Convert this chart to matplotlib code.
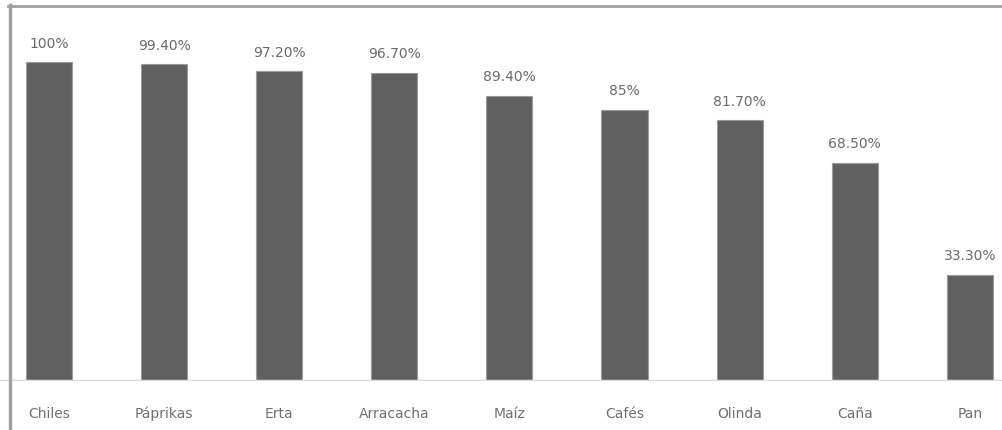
import matplotlib.pyplot as plt
from matplotlib.lines import Line2D

categories = ['Chiles', 'Páprikas', 'Erta', 'Arracacha', 'Maíz',
              'Cafés', 'Olinda', 'Caña', 'Pan']
values = [100, 99.40, 97.20, 96.70, 89.40, 85, 81.70, 68.50, 33.30]
value_labels = ['100%', '99.40%', '97.20%', '96.70%', '89.40%',
                '85%', '81.70%', '68.50%', '33.30%']

W, H = 1002, 431
fig = plt.figure(figsize=(W / 100, H / 100), dpi=100)
ax = fig.add_axes([0, 49 / H, 1, 362 / H])

x = range(len(categories))
ax.bar(x, values, width=0.40, color='#606060', edgecolor='#9a9a9a',
       linewidth=0.8, zorder=2)

for xi, v, lab in zip(x, values, value_labels):
    ax.annotate(lab, (xi, v), xytext=(0, 14), textcoords='offset points',
                ha='center', va='center', fontsize=10, color='#6a6a6a')

ax.axhline(0, color='#dcdcdc', lw=2.5, zorder=3)
ax.set_xlim(-0.4257, 8.28)
ax.set_ylim(0, 113.5)
ax.set_xticks(list(x))
ax.set_xticklabels(categories, fontsize=10, color='#707070')
ax.tick_params(axis='x', length=0, pad=18)
ax.set_yticks([])
for s in ax.spines.values():
    s.set_visible(False)

# grey frame along the top and left edges
fig.add_artist(Line2D([8 / W, 1], [1 - 7 / H, 1 - 7 / H],
                      transform=fig.transFigure, color='#a0a0a0', lw=2))
fig.add_artist(Line2D([9.5 / W, 9.5 / W], [0, 1 - 6 / H],
                      transform=fig.transFigure, color='#a0a0a0', lw=2.5))

fig.savefig('out.png', dpi=100)
